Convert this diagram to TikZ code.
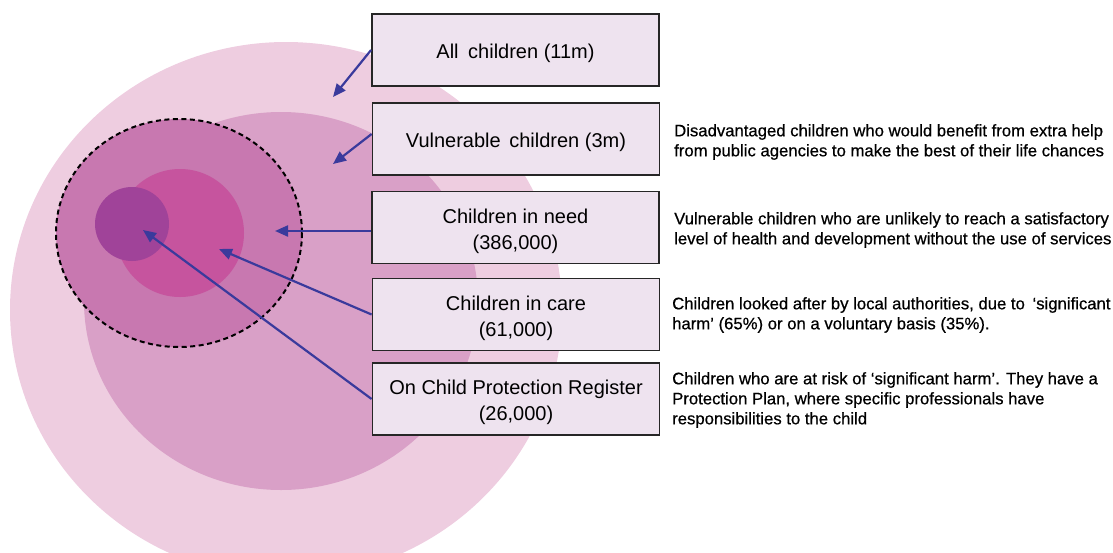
\documentclass[tikz,border=0pt]{standalone}
\usepackage{fontspec}
\setmainfont{Liberation Sans}
\newfontfamily\sidefont{Liberation Sans}[FakeBold=0.6]
\usetikzlibrary{arrows.meta}
\definecolor{outerpink}{HTML}{EECDE0}
\definecolor{midpink}{HTML}{D9A0C7}
\definecolor{needpink}{HTML}{C878B0}
\definecolor{carepink}{HTML}{C6549E}
\definecolor{cppurple}{HTML}{A04399}
\definecolor{boxfill}{HTML}{EEE3EF}
\definecolor{arrowblue}{HTML}{3A3A9C}
\begin{document}
\begin{tikzpicture}[x=1pt,y=-1pt,
  labelbox/.style={draw=black!85, line width=1.8pt, fill=boxfill, minimum width=287pt, minimum height=72pt, inner sep=0pt},
  boxtext/.style={inner sep=0pt, align=center, font=\fontsize{20}{26}\selectfont},
  sidenote/.style={anchor=north west, inner sep=0pt, align=left, font=\sidefont\fontsize{16.7}{20}\selectfont},
  pointer/.style={draw=arrowblue, line width=2.2pt, -{Triangle[length=13pt,width=11pt]}}]
\useasboundingbox (0,0) rectangle (1113,552);
% nested sets
\fill[outerpink] (286,310) ellipse [x radius=276, y radius=268];
\fill[midpink] (281,301) ellipse [x radius=197, y radius=189];
\filldraw[fill=needpink, draw=black, line width=2pt, dash pattern=on 5pt off 3.5pt] (179,233) ellipse [x radius=123, y radius=114];
\fill[carepink] (180,233) circle [radius=64];
\fill[cppurple] (132,224) circle [radius=37];
% target points
\coordinate (t1) at (333,97);
\coordinate (t2) at (333,164);
\coordinate (t3) at (275,231);
\coordinate (t4) at (219,249);
\coordinate (t5) at (143,230);
% boxes
\node[labelbox] (b1) at (515.5,50) {};
\node[labelbox] (b2) at (516,139) {};
\node[labelbox] (b3) at (515.5,227.5) {};
\node[labelbox] (b4) at (516,314.5) {};
\node[labelbox] (b5) at (516,399) {};
\node[boxtext] (l1) at ([yshift=-3.5pt]b1.center) {All\kern4pt\ children (11m)};
\node[boxtext] (l2) at ([yshift=-3.5pt]b2.center) {Vulnerable\kern3pt\ children (3m)};
\node[boxtext] (l3) at ([yshift=-3.5pt]b3.center) {Children in need\\(386,000)};
\node[boxtext] (l4) at ([yshift=-3.5pt]b4.center) {Children in care\\(61,000)};
\node[boxtext] (l5) at ([yshift=-3.5pt]b5.center) {On Child Protection Register\\(26,000)};
% arrows
\draw[pointer] (b1.west) -- (t1);
\draw[pointer] ([yshift=5pt]b2.west) -- (t2);
\draw[pointer] ([yshift=-3.5pt]b3.west) -- (t3);
\draw[pointer] (b4.west) -- (t4);
\draw[pointer] (b5.west) -- (t5);
% descriptions
\node[sidenote] (d2) at (674,124) {Disadvantaged children who would benefit from extra help\\from public agencies to make the best of their life chances};
\node[sidenote] (d3) at (674,212) {Vulnerable children who are unlikely to reach a satisfactory\\level of health and development without the use of services};
\node[sidenote] (d4) at (672,297) {Children looked after by local authorities, due to\kern3pt\ ‘significant\\harm’ (65\%) or on a voluntary basis (35\%).};
\node[sidenote] (d5) at (672,372) {Children who are at risk of ‘significant harm’. They have a\\Protection Plan, where specific professionals have\\responsibilities to the child};
\end{tikzpicture}
\end{document}
